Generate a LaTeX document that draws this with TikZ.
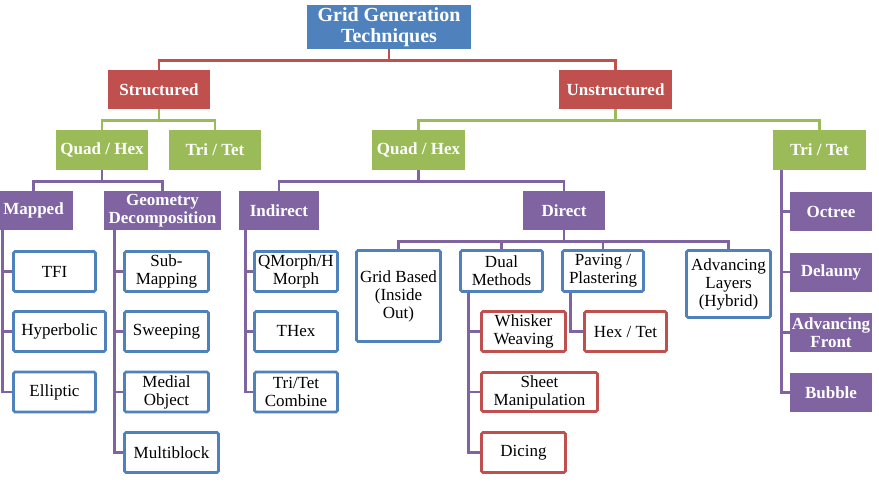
\documentclass[tikz,border=0pt]{standalone}
\usepackage{fontspec}
\setmainfont{Liberation Serif}
\definecolor{hdblue}{HTML}{4F81BD}
\definecolor{hdred}{HTML}{C0504D}
\definecolor{hdgreen}{HTML}{9BBB59}
\definecolor{hdpurple}{HTML}{8064A2}

\begin{document}
\begin{tikzpicture}[x=1pt, y=-1pt,
  filled/.style={fill=#1, text=white, align=center, inner sep=0pt,
    font=\fontsize{17}{18}\selectfont\bfseries},
  framed/.style={draw=#1, fill=white, line width=2.8pt, rounded corners=1.5pt,
    align=center, inner sep=0pt, font=\fontsize{17}{18}\selectfont},
  link/.style={draw=#1, line width=2.8pt}]

\useasboundingbox (0,0) rectangle (879,484);

%=== top levels ===
\node[filled=hdblue, minimum width=164pt, minimum height=44pt,
  font=\fontsize{20}{21}\selectfont\bfseries] (root) at (389,27)
  {Grid Generation\\Techniques};
\node[filled=hdred, minimum width=102pt, minimum height=39pt] (struct) at (159,89.5) {Structured};
\node[filled=hdred, minimum width=113pt, minimum height=39pt] (unstruct) at (615.5,89.5) {Unstructured};

\node[filled=hdgreen, minimum width=92pt, minimum height=40pt] (quadl) at (102,150) {Quad / Hex};
\node[filled=hdgreen, minimum width=92pt, minimum height=40pt] (trietl) at (215,150) {Tri / Tet};
\node[filled=hdgreen, minimum width=93pt, minimum height=40pt] (quadm) at (418.5,150) {Quad / Hex};
\node[filled=hdgreen, minimum width=93pt, minimum height=40pt] (trietr) at (819.5,150) {Tri / Tet};

%=== method families ===
\node[filled=hdpurple, minimum width=79pt, minimum height=39pt] (mapped) at (33.5,210.5) {Mapped};
\node[filled=hdpurple, minimum width=117pt, minimum height=39pt] (geom) at (162.5,210.5) {Geometry\\Decomposition};
\node[filled=hdpurple, minimum width=80pt, minimum height=39pt] (indirect) at (279,210.5) {Indirect};
\node[filled=hdpurple, minimum width=82pt, minimum height=39pt] (direct) at (564,210.5) {Direct};

% mapped
\node[framed=hdblue, minimum width=82pt, minimum height=40pt] (tfi) at (54.5,271.5) {TFI};
\node[framed=hdblue, minimum width=92pt, minimum height=40pt] (hyper) at (59.5,331.5) {Hyperbolic};
\node[framed=hdblue, minimum width=82pt, minimum height=40pt] (ellip) at (54.5,392) {Elliptic};

% geometry decomposition
\node[framed=hdblue, minimum width=84pt, minimum height=40pt] (submap) at (166.5,271.5) {Sub-\\Mapping};
\node[framed=hdblue, minimum width=84pt, minimum height=40pt] (sweep) at (166.5,331.5) {Sweeping};
\node[framed=hdblue, minimum width=84pt, minimum height=40pt] (medial) at (166.5,392) {Medial\\Object};
\node[framed=hdblue, minimum width=94pt, minimum height=40pt] (multib) at (171.5,452.5) {Multiblock};

% indirect
\node[framed=hdblue, minimum width=83pt, minimum height=40pt] (qmorph) at (296,271.5) {QMorph/H\\Morph};
\node[framed=hdblue, minimum width=83pt, minimum height=40pt] (thex) at (296,331.5) {THex};
\node[framed=hdblue, minimum width=83pt, minimum height=40pt] (tricomb) at (296,392) {Tri/Tet\\Combine};

% direct
\node[framed=hdblue, minimum width=84pt, minimum height=91pt] (gridb) at (398.5,296) {Grid Based\\(Inside\\Out)};
\node[framed=hdblue, minimum width=82pt, minimum height=41pt] (dual) at (501.5,271) {Dual\\Methods};
\node[framed=hdblue, minimum width=81pt, minimum height=41pt] (paving) at (603,271) {Paving /\\Plastering};
\node[framed=hdblue, minimum width=84pt, minimum height=67pt] (advl) at (728.5,284) {Advancing\\Layers\\(Hybrid)};

\node[framed=hdred, minimum width=84pt, minimum height=40pt] (whisker) at (523.5,331.5) {Whisker\\Weaving};
\node[framed=hdred, minimum width=116pt, minimum height=39pt] (sheet) at (539.5,392) {Sheet\\Manipulation};
\node[framed=hdred, minimum width=84pt, minimum height=40pt] (dicing) at (523.5,452.5) {Dicing};
\node[framed=hdred, minimum width=82pt, minimum height=40pt] (hextet) at (625.5,331.5) {Hex / Tet};

% tri / tet
\node[filled=hdpurple, minimum width=82pt, minimum height=39pt] (octree) at (831,211.5) {Octree};
\node[filled=hdpurple, minimum width=82pt, minimum height=39pt] (delauny) at (831,272) {Delauny};
\node[filled=hdpurple, minimum width=82pt, minimum height=39pt] (advf) at (831,332.5) {Advancing\\Front};
\node[filled=hdpurple, minimum width=82pt, minimum height=39pt] (bubble) at (831,392.5) {Bubble};

%=== connectors ===
\foreach \kid in {struct,unstruct}
  \draw[link=hdred] (root.south) -- ++(0,11) -| (\kid.north);
\foreach \kid in {quadl,trietl}
  \draw[link=hdgreen] (struct.south) -- ++(0,11) -| (\kid.north);
\foreach \kid in {quadm,trietr}
  \draw[link=hdgreen] (unstruct.south) -- ++(0,11) -| (\kid.north);
\foreach \kid in {mapped,geom}
  \draw[link=hdpurple] (quadl.south) -- ++(0,11) -| (\kid.north);
\foreach \kid in {indirect,direct}
  \draw[link=hdpurple] (quadm.south) -- ++(0,11) -| (\kid.north);
\foreach \kid in {gridb,dual,paving,advl}
  \draw[link=hdpurple] (direct.south) -- ++(0,11) -| (\kid.north);

% vertical spines
\foreach \kid in {tfi,hyper,ellip}
  \draw[link=hdpurple] ([xshift=9pt]mapped.south west) |- (\kid.west);
\foreach \kid in {submap,sweep,medial,multib}
  \draw[link=hdpurple] ([xshift=11pt]geom.south west) |- (\kid.west);
\foreach \kid in {qmorph,thex,tricomb}
  \draw[link=hdpurple] ([xshift=7pt]indirect.south west) |- (\kid.west);
\foreach \kid in {whisker,sheet,dicing}
  \draw[link=hdpurple] ([xshift=9pt]dual.south west) |- (\kid.west);
\draw[link=hdpurple] ([xshift=9pt]paving.south west) |- (hextet.west);
\foreach \kid in {octree,delauny,advf,bubble}
  \draw[link=hdpurple] ([xshift=9pt]trietr.south west) |- (\kid.west);

\end{tikzpicture}
\end{document}
